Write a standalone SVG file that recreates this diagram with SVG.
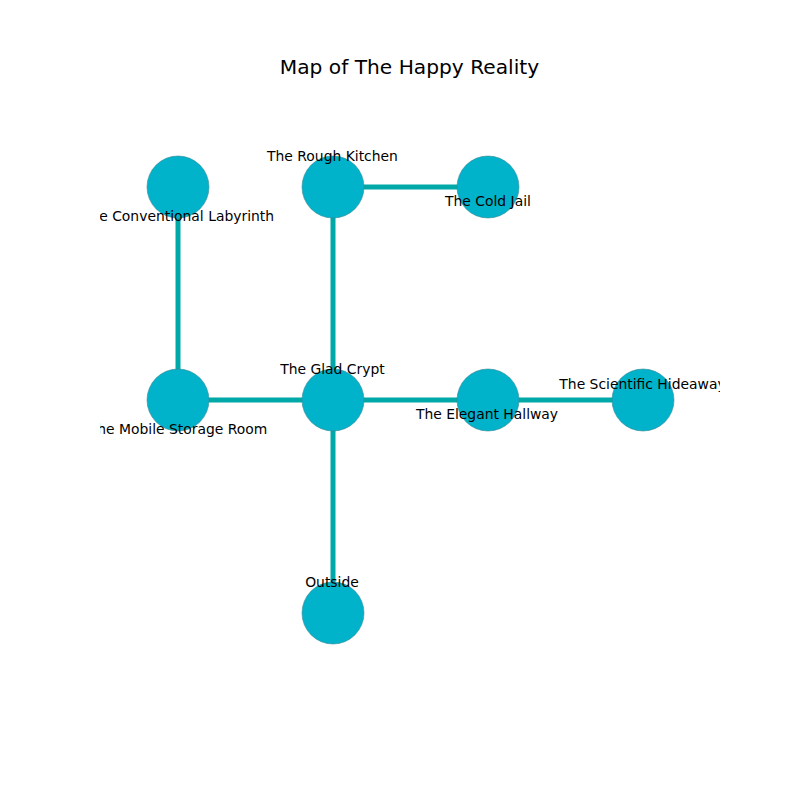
<svg xmlns="http://www.w3.org/2000/svg" width="800" height="800" viewBox="0 0 800 800">
<style>
.edge{stroke:#00a8a8;stroke-width:5;fill:none}
.node circle{fill:#00b2ca;stroke:#3a8a96;stroke-width:0.6}
.lbl{font-family:"DejaVu Sans",sans-serif;font-size:13.9px;fill:#000;text-anchor:middle;dominant-baseline:central}
.title{font-family:"DejaVu Sans",sans-serif;font-size:20.2px;fill:#000;text-anchor:middle;dominant-baseline:central}
</style>
<defs><clipPath id="ax"><rect x="100" y="96" width="620" height="608"/></clipPath></defs>
<rect width="800" height="800" fill="#fff"/>
<text class="title" x="409.5" y="67">Map of The Happy Reality</text>
<g id="connectors" clip-path="url(#ax)">
<line class="edge" x1="178" y1="187" x2="178" y2="400"/>
<line class="edge" x1="333" y1="187" x2="488" y2="187"/>
<line class="edge" x1="333" y1="187" x2="333" y2="400"/>
<line class="edge" x1="178" y1="400" x2="643" y2="400"/>
<line class="edge" x1="333" y1="400" x2="333" y2="613"/>
</g>
<g clip-path="url(#ax)">
<g id="n-labyrinth" class="node"><circle cx="178" cy="187" r="31"/></g>
<g id="n-kitchen" class="node"><circle cx="333" cy="187" r="31"/></g>
<g id="n-jail" class="node"><circle cx="488" cy="187" r="31"/></g>
<g id="n-storage" class="node"><circle cx="178" cy="400" r="31"/></g>
<g id="n-crypt" class="node"><circle cx="333" cy="400" r="31"/></g>
<g id="n-hallway" class="node"><circle cx="488" cy="400" r="31"/></g>
<g id="n-hideaway" class="node"><circle cx="643" cy="400" r="31"/></g>
<g id="n-outside" class="node"><circle cx="333" cy="613" r="31"/></g>
<g id="labels">
<text class="lbl" x="178" y="216">The Conventional Labyrinth</text>
<text class="lbl" x="332.5" y="156">The Rough Kitchen</text>
<text class="lbl" x="488" y="201">The Cold Jail</text>
<text class="lbl" x="178" y="429">The Mobile Storage Room</text>
<text class="lbl" x="332.5" y="369">The Glad Crypt</text>
<text class="lbl" x="487" y="414">The Elegant Hallway</text>
<text class="lbl" x="642.5" y="384">The Scientific Hideaway</text>
<text class="lbl" x="332" y="582">Outside</text>
</g>
</g>
</svg>
